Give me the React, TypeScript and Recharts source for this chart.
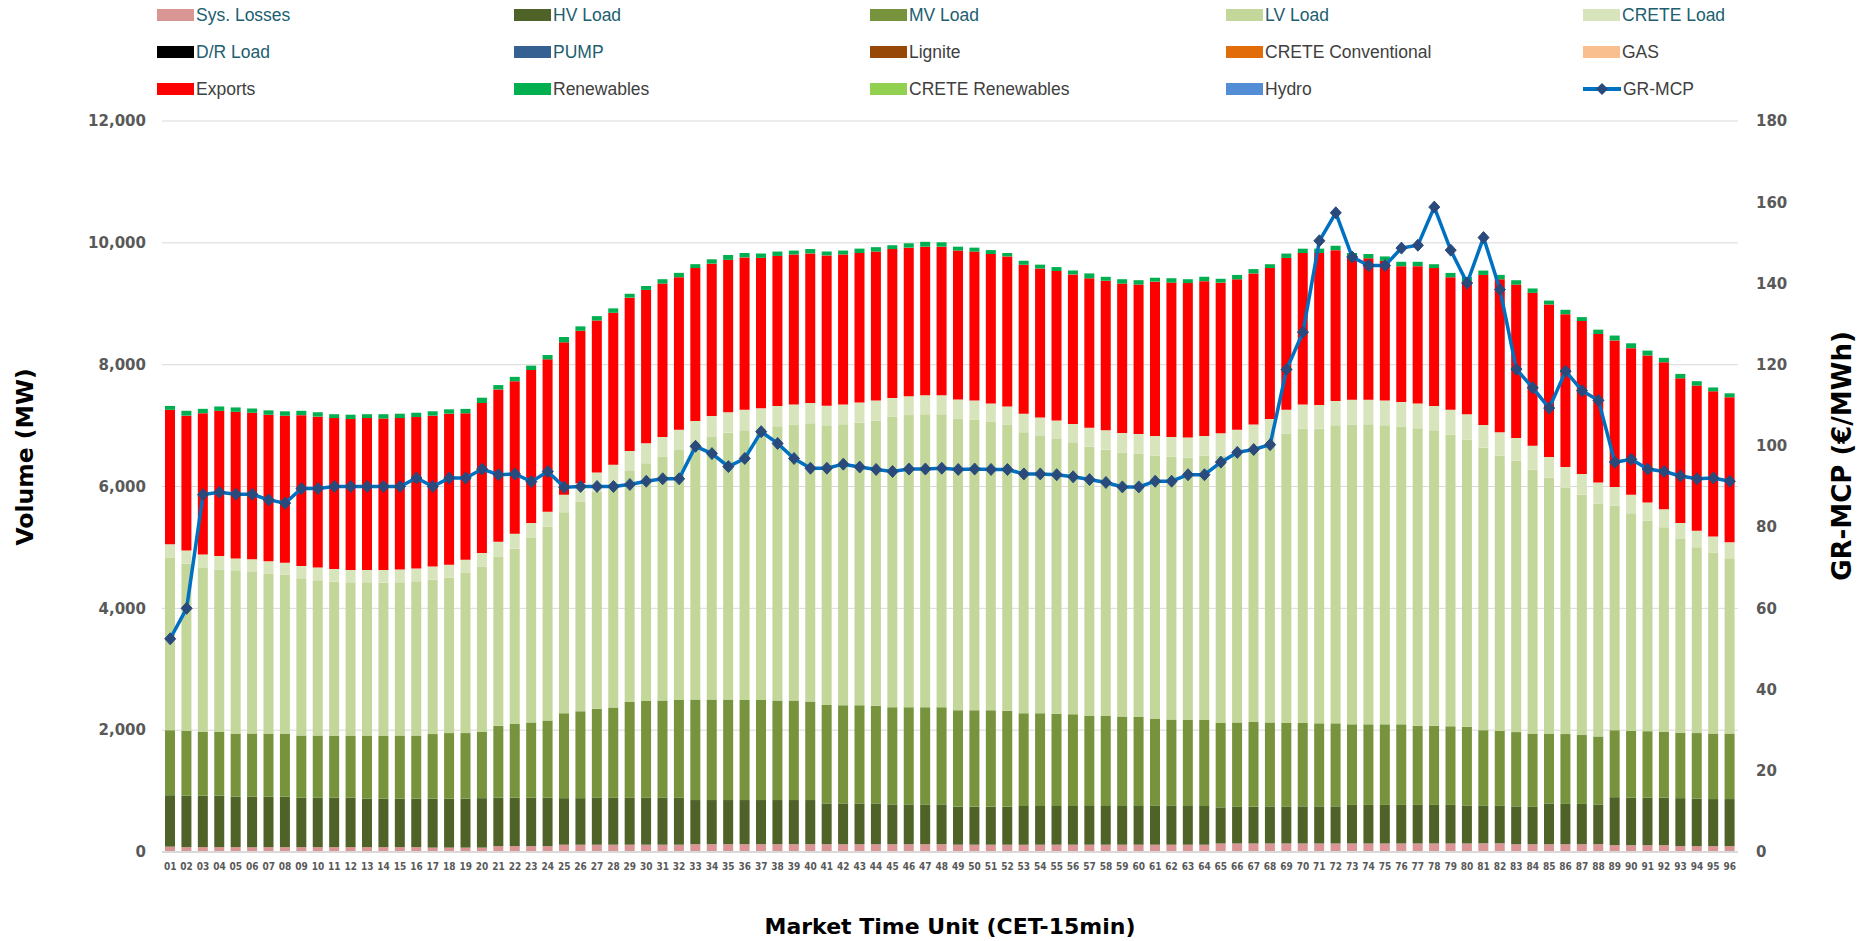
import React from "react";
import { ComposedChart, Bar, Line, XAxis, YAxis, CartesianGrid, Label } from "recharts";

const MTU = [
  "01", "02", "03", "04", "05", "06", "07", "08", "09", "10", "11", "12", "13", "14", "15", "16",
  "17", "18", "19", "20", "21", "22", "23", "24", "25", "26", "27", "28", "29", "30", "31", "32",
  "33", "34", "35", "36", "37", "38", "39", "40", "41", "42", "43", "44", "45", "46", "47", "48",
  "49", "50", "51", "52", "53", "54", "55", "56", "57", "58", "59", "60", "61", "62", "63", "64",
  "65", "66", "67", "68", "69", "70", "71", "72", "73", "74", "75", "76", "77", "78", "79", "80",
  "81", "82", "83", "84", "85", "86", "87", "88", "89", "90", "91", "92", "93", "94", "95", "96",
];

const SYS_LOSSES = [
  88, 80, 80, 80, 80, 80, 80, 80, 80, 80, 80, 80, 80, 80, 80, 80,
  72, 72, 72, 72, 96, 96, 96, 96, 120, 120, 120, 120, 120, 120, 120, 120,
  128, 128, 128, 128, 128, 128, 128, 128, 128, 128, 128, 128, 128, 128, 128, 128,
  120, 120, 120, 120, 120, 120, 120, 120, 120, 120, 120, 120, 120, 120, 120, 120,
  140, 140, 140, 140, 140, 140, 140, 140, 140, 140, 140, 140, 140, 140, 140, 140,
  143, 143, 128, 128, 128, 128, 128, 128, 112, 112, 112, 112, 96, 96, 96, 96,
];

const HV_LOAD = [
  844, 844, 844, 844, 828, 828, 828, 828, 812, 812, 812, 812, 796, 796, 796, 796,
  804, 804, 804, 812, 796, 796, 796, 796, 764, 764, 772, 772, 772, 772, 772, 772,
  725, 725, 725, 725, 725, 725, 725, 725, 669, 669, 669, 669, 653, 653, 653, 653,
  621, 621, 621, 621, 637, 637, 637, 637, 637, 637, 637, 637, 645, 645, 637, 637,
  593, 601, 601, 609, 601, 609, 609, 609, 633, 633, 633, 633, 633, 633, 633, 625,
  614, 614, 621, 613, 669, 661, 661, 653, 788, 780, 780, 780, 788, 780, 773, 773,
];

const MV_LOAD = [
  1068, 1068, 1052, 1052, 1036, 1036, 1036, 1036, 1020, 1020, 1012, 1012, 1028, 1028, 1036, 1036,
  1060, 1076, 1076, 1092, 1179, 1211, 1235, 1267, 1394, 1426, 1458, 1482, 1570, 1586, 1594, 1602,
  1649, 1649, 1649, 1641, 1641, 1633, 1633, 1618, 1618, 1610, 1610, 1602, 1594, 1594, 1594, 1594,
  1586, 1586, 1586, 1578, 1522, 1522, 1514, 1506, 1474, 1474, 1466, 1458, 1418, 1410, 1410, 1410,
  1386, 1386, 1394, 1378, 1378, 1370, 1363, 1363, 1323, 1323, 1323, 1323, 1299, 1299, 1291, 1291,
  1243, 1235, 1219, 1203, 1147, 1147, 1131, 1116, 1100, 1100, 1092, 1084, 1076, 1076, 1076, 1076,
];

const LV_LOAD = [
  2829, 2741, 2685, 2661, 2669, 2653, 2621, 2605, 2582, 2550, 2534, 2526, 2526, 2518, 2518, 2534,
  2534, 2550, 2629, 2709, 2773, 2876, 3028, 3179, 3299, 3442, 3562, 3665, 3793, 3904, 4000, 4104,
  4239, 4311, 4382, 4430, 4462, 4502, 4526, 4566, 4590, 4613, 4645, 4685, 4773, 4797, 4813, 4813,
  4789, 4773, 4733, 4693, 4613, 4550, 4510, 4462, 4422, 4374, 4335, 4327, 4327, 4311, 4311, 4343,
  4390, 4430, 4502, 4582, 4749, 4829, 4837, 4892, 4916, 4924, 4908, 4884, 4884, 4852, 4789, 4717,
  4637, 4518, 4454, 4335, 4199, 4040, 3944, 3825, 3689, 3570, 3458, 3355, 3179, 3052, 2972, 2876,
];

const CRETE_LOAD = [
  223, 215, 223, 223, 207, 207, 207, 199, 199, 207, 207, 199, 199, 207, 207, 207,
  215, 215, 215, 223, 247, 247, 247, 247, 287, 303, 319, 319, 327, 327, 327, 335,
  335, 343, 335, 335, 327, 335, 335, 335, 319, 327, 327, 327, 303, 311, 311, 311,
  311, 311, 303, 303, 303, 303, 303, 303, 311, 319, 319, 319, 319, 327, 327, 319,
  367, 374, 382, 398, 390, 398, 390, 398, 414, 406, 406, 406, 406, 398, 406, 414,
  374, 382, 374, 390, 343, 343, 343, 343, 303, 303, 295, 295, 263, 271, 263, 263,
];

const EXPORTS = [
  2207, 2215, 2319, 2382, 2406, 2406, 2406, 2414, 2478, 2478, 2478, 2478, 2494, 2486, 2486, 2486,
  2478, 2478, 2406, 2462, 2502, 2502, 2510, 2502, 2502, 2502, 2494, 2494, 2518, 2518, 2518, 2502,
  2510, 2502, 2502, 2502, 2470, 2462, 2462, 2454, 2470, 2462, 2454, 2446, 2446, 2438, 2438, 2438,
  2446, 2446, 2454, 2462, 2446, 2446, 2454, 2454, 2454, 2454, 2454, 2454, 2534, 2534, 2534, 2542,
  2470, 2470, 2478, 2478, 2494, 2486, 2494, 2478, 2335, 2319, 2295, 2231, 2255, 2263, 2175, 2183,
  2462, 2510, 2518, 2510, 2502, 2510, 2510, 2438, 2406, 2406, 2414, 2414, 2374, 2382, 2382, 2382,
];

const RENEWABLES = [
  64, 80, 72, 72, 72, 72, 72, 72, 72, 72, 64, 72, 64, 72, 72, 72,
  72, 72, 72, 88, 72, 72, 72, 72, 88, 72, 72, 72, 64, 64, 72, 72,
  64, 72, 80, 72, 72, 72, 64, 72, 64, 64, 72, 72, 64, 72, 80, 72,
  64, 64, 64, 56, 64, 64, 64, 64, 80, 64, 72, 72, 64, 72, 64, 72,
  64, 72, 72, 64, 72, 72, 72, 72, 72, 72, 72, 72, 72, 64, 72, 72,
  72, 72, 72, 72, 64, 72, 64, 72, 80, 80, 80, 72, 72, 72, 64, 64,
];

const GR_MCP = [
  52.5, 60.0, 88.0, 88.6, 88.1, 88.1, 86.7, 85.9, 89.5, 89.5, 90.0, 90.0, 90.0, 90.0, 90.0, 92.1,
  90.0, 92.1, 92.1, 94.3, 92.9, 93.1, 91.2, 93.7, 89.8, 90.0, 90.0, 90.0, 90.5, 91.3, 91.9, 91.9,
  99.9, 98.1, 94.9, 96.9, 103.5, 100.6, 96.9, 94.5, 94.5, 95.5, 94.8, 94.2, 93.7, 94.3, 94.3, 94.5,
  94.2, 94.3, 94.2, 94.2, 93.1, 93.1, 92.9, 92.4, 91.7, 91.0, 89.9, 89.9, 91.3, 91.3, 92.9, 92.9,
  96.0, 98.4, 99.1, 100.3, 118.8, 128.0, 150.5, 157.4, 146.5, 144.4, 144.4, 148.7, 149.4, 158.8, 148.2, 140.1,
  151.3, 138.5, 118.9, 114.3, 109.3, 118.4, 113.6, 111.2, 96.0, 96.7, 94.3, 93.7, 92.6, 91.9, 92.1, 91.3,
];

const VOLUME_TICKS = [0, 2000, 4000, 6000, 8000, 10000, 12000];
const PRICE_TICKS = [0, 20, 40, 60, 80, 100, 120, 140, 160, 180];

const TEAL = "#215E6E";
const GREY_TXT = "#404040";

// legend rows, left to right
const LEGEND = [
  { name: "Sys. Losses", color: "#DA9694", text: TEAL },
  { name: "HV Load", color: "#4F6228", text: TEAL },
  { name: "MV Load", color: "#77933C", text: TEAL },
  { name: "LV Load", color: "#C4D79B", text: TEAL },
  { name: "CRETE Load", color: "#D8E4BC", text: TEAL },
  { name: "D/R Load", color: "#000000", text: TEAL },
  { name: "PUMP", color: "#366092", text: TEAL },
  { name: "Lignite", color: "#974706", text: GREY_TXT },
  { name: "CRETE Conventional", color: "#E26B0A", text: GREY_TXT },
  { name: "GAS", color: "#FABF8F", text: GREY_TXT },
  { name: "Exports", color: "#FF0000", text: GREY_TXT },
  { name: "Renewables", color: "#00B050", text: GREY_TXT },
  { name: "CRETE Renewables", color: "#92D050", text: GREY_TXT },
  { name: "Hydro", color: "#538DD5", text: GREY_TXT },
  { name: "GR-MCP", color: "#0070C0", text: GREY_TXT, line: true },
];

const LEGEND_COLS = [157, 514, 870, 1226, 1583];
const LEGEND_ROWS = [15, 52, 89];

const data = MTU.map((mtu, i) => ({
  mtu,
  losses: SYS_LOSSES[i],
  hv: HV_LOAD[i],
  mv: MV_LOAD[i],
  lv: LV_LOAD[i],
  crete: CRETE_LOAD[i],
  exports: EXPORTS[i],
  renewables: RENEWABLES[i],
  mcp: GR_MCP[i],
}));

const MARKER = "#2A4A7B";

function diamond(props: any) {
  const { cx, cy, index } = props;
  if (cx == null || cy == null) return <g key={`d-${index}`} />;
  return (
    <polygon
      key={`d-${index}`}
      points={`${cx},${cy - 6} ${cx + 5.5},${cy} ${cx},${cy + 6} ${cx - 5.5},${cy}`}
      fill={MARKER}
      stroke={MARKER}
      strokeWidth={1}
    />
  );
}

function ChartLegend() {
  return (
    <div style={{ position: "absolute", left: 0, top: 0, width: 1875, height: 110, zIndex: 2 }}>
      {LEGEND.map((it, i) => {
        const x = LEGEND_COLS[i % 5];
        const y = LEGEND_ROWS[Math.floor(i / 5)];
        return (
          <div
            key={it.name}
            style={{ position: "absolute", left: x, top: y - 11, height: 22, display: "flex", alignItems: "center" }}
          >
            {it.line ? (
              <svg width={38} height={14} style={{ marginRight: 2 }}>
                <line x1={0} y1={7} x2={38} y2={7} stroke={it.color} strokeWidth={4} />
                <polygon points="19,1 25,7 19,13 13,7" fill={MARKER} />
              </svg>
            ) : (
              <span style={{ display: "inline-block", width: 37, height: 12, background: it.color, marginRight: 2 }} />
            )}
            <span style={{ fontFamily: "'Liberation Sans', Arial, sans-serif", fontSize: 17.5, color: it.text, whiteSpace: "nowrap" }}>
              {it.name}
            </span>
          </div>
        );
      })}
    </div>
  );
}

const tickFont = { fontFamily: "'DejaVu Sans', sans-serif", fontWeight: 700, fontSize: 15, fill: "#595959" };
const titleStyle = { fontFamily: "'DejaVu Sans', sans-serif", fontWeight: 700, fill: "#000" };

export default function App() {
  return (
    <div style={{ position: "absolute", left: 0, top: 0, width: 1875, height: 941, background: "#fff" }}>
      <ChartLegend />
      <ComposedChart width={1875} height={941} data={data} margin={{ top: 121, right: 0, bottom: 59, left: 0 }}>
        <CartesianGrid yAxisId="left" vertical={false} stroke="#D9D9D9" />
        <XAxis
          dataKey="mtu"
          interval={0}
          tickLine={false}
          tickSize={0}
          tickMargin={11}
          height={30}
          axisLine={{ stroke: "#D9D9D9", strokeWidth: 2 }}
          tick={{ fontFamily: "'DejaVu Sans Condensed', 'DejaVu Sans', sans-serif", fontWeight: 700, fontSize: 10, fill: "#595959" }}
        >
          <Label
            content={() => (
              <text x={950} y={926} textAnchor="middle" dominantBaseline="central" fontSize={22} {...titleStyle}>
                Market Time Unit (CET-15min)
              </text>
            )}
          />
        </XAxis>
        <YAxis
          yAxisId="left"
          width={162}
          domain={[0, 12000]}
          ticks={VOLUME_TICKS}
          tickFormatter={(v: number) => v.toLocaleString("en-US")}
          axisLine={false}
          tickLine={false}
          tickSize={0}
          tickMargin={16}
          tick={tickFont}
        >
          <Label
            content={() => (
              <text x={25} y={457} transform="rotate(-90 25 457)" textAnchor="middle" dominantBaseline="central" fontSize={23.5} {...titleStyle}>
                Volume (MW)
              </text>
            )}
          />
        </YAxis>
        <YAxis
          yAxisId="right"
          orientation="right"
          width={137}
          domain={[0, 180]}
          ticks={PRICE_TICKS}
          axisLine={false}
          tickLine={false}
          tickSize={0}
          tickMargin={18}
          tick={tickFont}
        >
          <Label
            content={() => (
              <text x={1842} y={456} transform="rotate(-90 1842 456)" textAnchor="middle" dominantBaseline="central" fontSize={26} {...titleStyle}>
                GR-MCP (€/MWh)
              </text>
            )}
          />
        </YAxis>
        <Bar yAxisId="left" dataKey="losses" name="Sys. Losses" stackId="v" fill="#DA9694" barSize={10} isAnimationActive={false} />
        <Bar yAxisId="left" dataKey="hv" name="HV Load" stackId="v" fill="#4F6228" barSize={10} isAnimationActive={false} />
        <Bar yAxisId="left" dataKey="mv" name="MV Load" stackId="v" fill="#77933C" barSize={10} isAnimationActive={false} />
        <Bar yAxisId="left" dataKey="lv" name="LV Load" stackId="v" fill="#C4D79B" barSize={10} isAnimationActive={false} />
        <Bar yAxisId="left" dataKey="crete" name="CRETE Load" stackId="v" fill="#D8E4BC" barSize={10} isAnimationActive={false} />
        <Bar yAxisId="left" dataKey="exports" name="Exports" stackId="v" fill="#FF0000" barSize={10} isAnimationActive={false} />
        <Bar yAxisId="left" dataKey="renewables" name="Renewables" stackId="v" fill="#00B050" barSize={10} isAnimationActive={false} />
        <Line
          yAxisId="right"
          type="linear"
          dataKey="mcp"
          name="GR-MCP"
          stroke="#0070C0"
          strokeWidth={3.5}
          dot={diamond}
          activeDot={false}
          isAnimationActive={false}
        />
      </ComposedChart>
    </div>
  );
}
